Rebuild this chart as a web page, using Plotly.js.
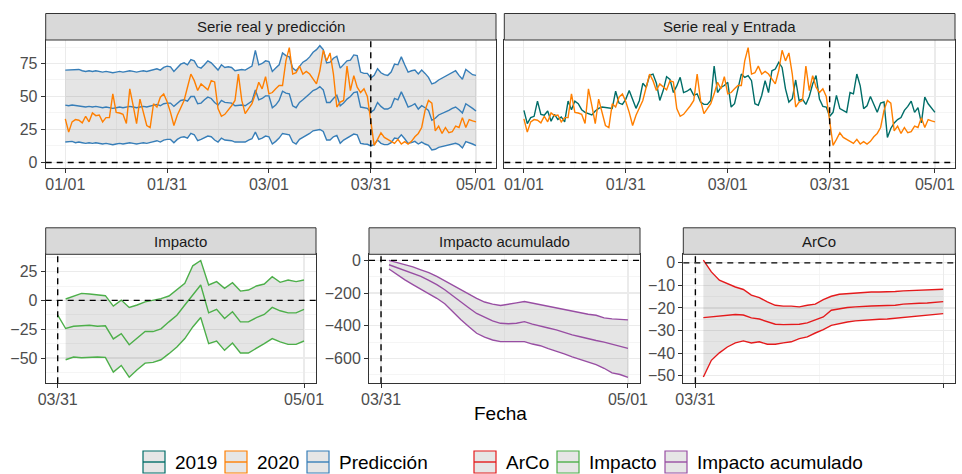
<!DOCTYPE html>
<html><head><meta charset="utf-8">
<script src="https://cdn.plot.ly/plotly-3.0.1.min.js"></script>
<style>html,body{margin:0;padding:0;background:#fff}#chart{width:962px;height:474px}</style>
</head><body><div id="chart"></div>
<script>
// ---------------- DATA ----------------
const nDays = 122; // 2020-01-01 .. 2020-05-01 (daily)
const series2019 = [39.5,29.5,34,35,46.5,36.5,35.8,39,31.3,36.5,
32.5,34.5,30.8,46.5,40,46.5,44.5,40,38,37,
36,39,41,42,41.5,41.5,41,54,45,44,
48,54.5,47,41,47,60,57,66,67,60,
47,54.5,65,63,53,58,64.5,53,54,55.8,
50.8,52,45.8,44,44,47,73,53,57,58.3,
60.8,42,44.5,55.8,67,64.5,65.8,62,44.5,43.3,
50.8,62,53,69.5,70.8,75.8,72,55.8,45.8,48.3,
62.5,47,48,44,50,59.5,65.8,48,42.5,42,
35,38,50.8,40.8,39.5,38,53,52,67,58,
40.8,43,50,44.5,38,45,45.8,19,25.8,30,
32.5,34,39.5,42.5,46.5,38,41.5,30,49.5,44.5,
41,38];
const series2020 = [33,23,30.8,32.5,32,30,35,30.8,37.5,35.5,
36,30.8,34,34,52,38,37.5,36.5,29.5,55.8,
43,29.5,48,37.5,28,26.5,44.5,42,49.5,52,
46,38,28,35.8,42,47,57,67,62,54.5,
59.5,57,55,62,61,40.8,35,36.5,39.5,43,
47,67,47,37,40.8,44.5,52,60.8,55.8,65,
52,53,55.8,58.3,58.3,77,87,67,68,73,
67,69,67,63,59.5,69.5,85,77,83,67,
42,45.8,47,73,54.5,65.8,57,53,55.8,50,
30,13,17.5,22.5,19,17.5,16.5,14.5,17.5,14,
15.8,14,16,19.5,22,26.5,39.5,47,45,24,
27.5,22,26.5,22.5,23.3,27.5,26.5,34,26.5,32.5,
31.5,30.8];
const predUpper = [70,70,70.5,70,70.5,69.5,69,69.5,69,69.5,
69,68.5,69,68.5,68,68.5,69,68.5,69,69.5,
69,68.5,69,69.5,69,69.5,70.5,71,70,72,
73,72.5,69,72,74.5,75.5,74,78,77,72.5,
71.5,74,77,75.5,72.5,70,74,72,72.5,72,
69.5,70,70.5,70,71.5,73,85,74,75,77,
76.5,69,71.5,74,83,81,80,71.5,69.5,73,
76,77.5,80,83.5,85.5,88.5,85.5,75.5,76,79,
80.5,71.5,74,77,77.5,81.5,81,68.5,67.5,67.5,
64,66,71,68,66.5,66,68.5,74.5,74,80,
74,68.5,69.5,70,67,70,67.5,64.5,59.5,60.5,
62.5,64,65,67,68,69.5,66,63,70.5,68.5,
66.5,66];
const predMean = [43.5,43,43.5,43,43,42.5,42,42.5,42,42.5,
42,41.5,42,41.5,41,41.5,42,41.5,42,42.5,
42,41.5,42,42.5,42,42.5,43.5,44,43,44.5,
45,45,42.5,45,47,47.5,46.5,50,50,44.5,
45,47.5,49.5,48.5,45.5,43.5,47,45.5,45.5,45,
43,43.5,43.5,43,45,46.5,55,47.5,48.5,50.5,
50.5,41.5,43.5,47,54,52.5,52,43,41.5,45.5,
47.5,49.5,52,54.5,55.5,57.5,55,45.5,45.5,48.5,
51,43,45,48,50,53,53.5,42,41.5,41,
38,40,45.5,42.5,40.5,40.5,42,48.5,47.5,53.5,
48,42,43,44.5,40.5,43,41.5,39.5,32,33.5,
36,37,38,39.5,41,42,40,37.5,44.5,43,
41,39];
const predLower = [15.5,15.5,16,15,15.5,15,14.5,15,14.5,15,
14.5,14,14.5,14,13.5,14,14.5,14,14.5,15,
14.5,14,14.5,15,14.5,15,16,16.5,15.5,17,
17.5,17.5,15,17.5,19,19.5,18.5,22,21,16.5,
17.5,19,20,19.5,17,15.5,18.5,17,17,16.5,
15.5,15.5,16,15.5,17,18,23,17.5,18.5,20,
19.5,14,16,18.5,22,21.5,21,15.5,14,17.5,
19,20,22,24,24.5,25,23.5,17,17,19.5,
20.5,14.5,17,18.5,19.5,21.5,21,14.5,14,13.8,
12.5,13.5,17,14.5,13.5,13.5,15,18.5,18,21,
18,14.5,15,16,14,15.5,14,13,9.5,10,
11.5,12,12.5,13.3,14,14.5,13.5,11,15.8,15,
14,12.8];
// post-intervention (03/31 .. 05/01 for impactoMid, 04/01 .. 05/01 for the rest)
const impactoMid = [-12.8,-24.4,-22.4,-21.8,-21.5,-22.4,-22,-33.4,-28.8,-38.4,-33,-27,-27,-24.7,-18.6,-12.8,-4,4.7,13.4,-10.8,-7.8,-15.7,-9.9,-18.6,-18.6,-15,-12.2,-6.1,-9,-10.8,-10.8,-7.8];
const impactoUp = [1.2,3.8,6.1,5.5,4.7,4.1,-4.9,0.3,-6.1,-4,-1.2,0.3,1.5,3.8,9.6,14.8,30,34.6,13.4,16.3,10.5,15.4,8.1,9,12.5,14.2,20.6,15.7,17.7,16.3,17.7];
const impactoLow = [-51.5,-49.1,-49.7,-49.1,-49.1,-49.4,-62.2,-56.4,-66.6,-60.2,-54.4,-53.8,-51.5,-46.2,-40.4,-33.1,-23,-14.8,-37.5,-35.2,-43.3,-36.9,-45.6,-45.6,-41.9,-37.5,-33.1,-36,-38.1,-38.1,-35.2];
const acumMid = [-27,-45,-63,-80,-98,-122,-148,-180,-218,-255,-290,-325,-350,-370,-385,-388,-385,-375,-390,-400,-414,-425,-442,-456,-467,-480,-490,-500,-512,-525,-538];
const acumUp = [0,-12,-25,-40,-58,-75,-98,-125,-153,-182,-208,-232,-255,-268,-276,-270,-260,-252,-262,-272,-283,-292,-300,-310,-322,-330,-336,-352,-358,-360,-364];
const acumLow = [-53,-87,-119,-148,-175,-200,-232,-265,-315,-362,-405,-446,-470,-487,-497,-497,-497,-497,-512,-522,-540,-555,-572,-590,-605,-620,-638,-660,-688,-698,-716];
const arcoMid = [-24.3,-24,-23.5,-23.1,-22.9,-23.1,-24.4,-24.9,-26.2,-27.2,-27.4,-27.4,-27.2,-26.6,-25.4,-24,-21,-20.3,-19.8,-19.5,-19.2,-19.1,-19,-18.9,-18.8,-18.3,-18,-17.9,-17.8,-17.5,-17.2];
const arcoUp = [1.2,-4,-7.7,-9.2,-10.7,-11.8,-14.3,-15.4,-17.3,-18.8,-19.2,-19.2,-19.5,-18.8,-18.3,-16.3,-14.8,-13.9,-13.6,-13.3,-13,-12.9,-12.9,-12.9,-12.7,-12.4,-12.3,-12.3,-12.1,-11.8,-11.7];
const arcoLow = [-50.6,-43.2,-39.9,-37.3,-35.5,-34.6,-35.5,-35,-36.1,-36.1,-35.5,-35,-33.6,-32.8,-31.1,-29.6,-27.7,-26.9,-26.2,-25.7,-25.4,-25.1,-25,-24.9,-24.6,-24,-23.7,-23.4,-23.2,-22.9,-22.5];

const panelTitles = ['Serie real y predicción','Serie real y Entrada','Impacto','Impacto acumulado','ArCo'];
const topTicks = ['2020-01-01','2020-01-31','2020-03-01','2020-03-31','2020-05-01'];
const topMinor = ['2020-01-16','2020-02-15','2020-03-16','2020-04-15 12:00'];
const botTicks = ['2020-03-31','2020-05-01'];
const botMinor = ['2020-04-15 12:00'];
const interventionDate = '2020-03-31';
const legendLabels = ['2019','2020','Predicción','ArCo','Impacto','Impacto acumulado'];
const legendColors = ['#006D68','#FF7F00','#377EB8','#E41A1C','#4DAF4A','#984EA3'];
const axisTitle = 'Fecha';

// ---------------- BUILD ----------------
function dayStr(i){ return new Date(Date.UTC(2020,0,1+i)).toISOString().slice(0,10); }
const dates = Array.from({length:nDays},(_,i)=>dayStr(i));
const datesPost = dates.slice(90);
const datesBand = dates.slice(91);

const C = {c2019:legendColors[0], c2020:legendColors[1], pred:legendColors[2], arco:legendColors[3], imp:legendColors[4], acum:legendColors[5]};
const bandFill = 'rgba(0,0,0,0.1)';
const LW = 1.4;

function band(x, up, lo, xa, ya){
  return {x: x.concat(x.slice().reverse()), y: up.concat(lo.slice().reverse()), xaxis:xa, yaxis:ya,
    type:'scatter', mode:'lines', fill:'toself', fillcolor:bandFill, line:{width:0}, hoverinfo:'skip'};
}
function line(x, y, color, xa, ya){
  return {x:x, y:y, xaxis:xa, yaxis:ya, type:'scatter', mode:'lines', line:{color:color, width:LW}};
}

const traces = [
  band(dates, predUpper, predLower, 'x', 'y'),
  line(dates, predUpper, C.pred, 'x', 'y'),
  line(dates, predMean, C.pred, 'x', 'y'),
  line(dates, predLower, C.pred, 'x', 'y'),
  line(dates, series2020, C.c2020, 'x', 'y'),
  line(dates, series2019, C.c2019, 'x2', 'y2'),
  line(dates, series2020, C.c2020, 'x2', 'y2'),
  band(datesBand, impactoUp, impactoLow, 'x3', 'y3'),
  line(datesBand, impactoUp, C.imp, 'x3', 'y3'),
  line(datesBand, impactoLow, C.imp, 'x3', 'y3'),
  line(datesPost, impactoMid, C.imp, 'x3', 'y3'),
  band(datesBand, acumUp, acumLow, 'x4', 'y4'),
  line(datesBand, acumUp, C.acum, 'x4', 'y4'),
  line(datesBand, acumLow, C.acum, 'x4', 'y4'),
  line(datesBand, acumMid, C.acum, 'x4', 'y4'),
  band(datesBand, arcoUp, arcoLow, 'x5', 'y5'),
  line(datesBand, arcoUp, C.arco, 'x5', 'y5'),
  line(datesBand, arcoLow, C.arco, 'x5', 'y5'),
  line(datesBand, arcoMid, C.arco, 'x5', 'y5')
];

const W = 962, H = 474;
const px = v => v / W;
const py = v => 1 - v / H;
const FONT = 'Liberation Sans, Arial, Helvetica, sans-serif';

// panel boxes in pixels: [left, right, top, bottom]
const panels = [
  [45.7, 496, 40, 168.3],
  [504.3, 955, 40, 168.3],
  [45.7, 316, 254.3, 383.3],
  [369, 640, 254.3, 383.3],
  [683.3, 955.3, 254.3, 383.3]
];
const stripH = 26.5;

function baseAxis(){
  return {showline:true, mirror:true, linecolor:'#333333', linewidth:1, ticks:'outside', ticklen:4,
    tickcolor:'#333333', tickwidth:1, showgrid:true, gridcolor:'#EBEBEB', gridwidth:1.1, zeroline:false,
    tickfont:{family:FONT, size:16, color:'#4D4D4D'}};
}
function xAxis(i, range, ticks, minor, anchor){
  return Object.assign(baseAxis(), {type:'date', domain:[px(panels[i][0]), px(panels[i][1])], anchor:anchor,
    range:range, tickmode:'array', tickvals:ticks, tickformat:'%m/%d', ticklabelstandoff:-3,
    minor:{tickmode:'array', tickvals:minor, showgrid:true, gridcolor:'#F3F3F3', gridwidth:0.8, ticks:''}});
}
function yAxis(i, range, ticks, minor, anchor, showLabels){
  const a = Object.assign(baseAxis(), {domain:[py(panels[i][3]), py(panels[i][2])], anchor:anchor,
    range:range, tickmode:'array', tickvals:ticks,
    minor:{tickmode:'array', tickvals:minor, showgrid:true, gridcolor:'#F3F3F3', gridwidth:0.8, ticks:''}});
  if(!showLabels){ a.showticklabels = false; a.ticks = ''; }
  return a;
}

const topRange = ['2019-12-26 05:30','2020-05-06 21:30'];
const botRange = ['2020-03-29 11:45','2020-05-02 12:15'];

const layout = {
  width:W, height:H, margin:{l:0,r:0,t:0,b:0}, showlegend:false,
  paper_bgcolor:'#ffffff', plot_bgcolor:'#ffffff', font:{family:FONT},
  xaxis: xAxis(0, topRange, topTicks, topMinor, 'y'),
  yaxis: yAxis(0, [-4.4, 92.8], [0,25,50,75], [12.5,37.5,62.5,87.5], 'x', true),
  xaxis2: xAxis(1, topRange, topTicks, topMinor, 'y2'),
  yaxis2: yAxis(1, [-4.4, 92.8], [0,25,50,75], [12.5,37.5,62.5,87.5], 'x2', false),
  xaxis3: xAxis(2, botRange, botTicks, botMinor, 'y3'),
  yaxis3: yAxis(2, [-71.9, 40.0], [-50,-25,0,25], [-62.5,-37.5,-12.5,12.5,37.5], 'x3', true),
  xaxis4: xAxis(3, botRange, botTicks, botMinor, 'y4'),
  yaxis4: yAxis(3, [-752, 37], [-600,-400,-200,0], [-700,-500,-300,-100], 'x4', true),
  xaxis5: xAxis(4, botRange, botTicks, botMinor, 'y5'),
  yaxis5: yAxis(4, [-53.4, 3.8], [-50,-40,-30,-20,-10,0], [-45,-35,-25,-15,-5], 'x5', true),
  shapes: [], annotations: []
};

// dashed reference lines
const axNames = [['x','y'],['x2','y2'],['x3','y3'],['x4','y4'],['x5','y5']];
axNames.forEach(([xa, ya]) => {
  layout.shapes.push({type:'line', xref:xa, yref:ya+' domain', x0:interventionDate, x1:interventionDate, y0:0, y1:1,
    line:{color:'#000000', width:1.4, dash:'6px,5px'}});
  layout.shapes.push({type:'line', xref:xa+' domain', yref:ya, x0:0, x1:1, y0:0, y1:0,
    line:{color:'#000000', width:1.4, dash:'6px,5px'}});
});

// strips
panels.forEach((p, i) => {
  layout.shapes.push({type:'rect', xref:'paper', yref:'paper', x0:px(p[0]), x1:px(p[1]), y0:py(p[2]), y1:py(p[2]-stripH),
    fillcolor:'#D9D9D9', line:{color:'#333333', width:1}, layer:'above'});
  layout.annotations.push({xref:'paper', yref:'paper', x:px((p[0]+p[1])/2), y:py(p[2]-stripH/2), text:panelTitles[i],
    showarrow:false, xanchor:'center', yanchor:'middle', font:{family:FONT, size:15, color:'#1A1A1A'}});
});

// axis title
layout.annotations.push({xref:'paper', yref:'paper', x:px(500), y:py(413), text:axisTitle, showarrow:false,
  xanchor:'center', yanchor:'middle', font:{family:FONT, size:19, color:'#000000'}});

// legend (drawn manually: ribbon + line keys)
const keyX = [143, 225, 307, 474, 557, 665];
const keyW = 22, keyTop = 451, keyBot = 473;
legendLabels.forEach((lab, i) => {
  const x0 = keyX[i];
  layout.shapes.push({type:'rect', xref:'paper', yref:'paper', x0:px(x0), x1:px(x0+keyW), y0:py(keyBot), y1:py(keyTop),
    fillcolor:'#E6E6E6', line:{color:legendColors[i], width:1.2}});
  layout.shapes.push({type:'line', xref:'paper', yref:'paper', x0:px(x0), x1:px(x0+keyW), y0:py((keyTop+keyBot)/2), y1:py((keyTop+keyBot)/2),
    line:{color:legendColors[i], width:LW}});
  layout.annotations.push({xref:'paper', yref:'paper', x:px(x0+keyW+8), y:py((keyTop+keyBot)/2), text:lab, showarrow:false,
    xanchor:'left', yanchor:'middle', font:{family:FONT, size:19, color:'#000000'}});
});

Plotly.newPlot('chart', traces, layout, {staticPlot:true, displayModeBar:false});
</script>
</body></html>
